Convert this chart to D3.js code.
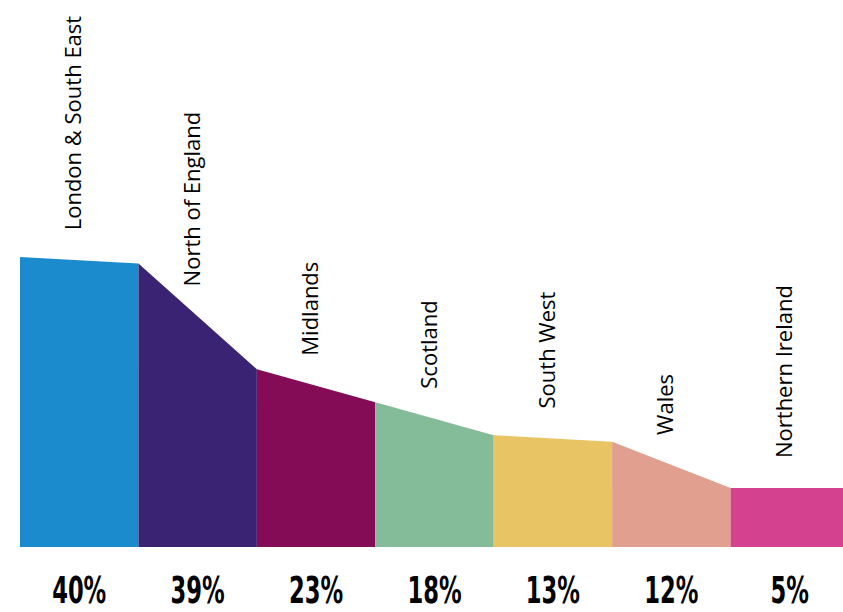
<!DOCTYPE html>
<html>
<head>
<meta charset="utf-8">
<script src="https://cdn.jsdelivr.net/npm/d3@7"></script>
<style>
  html, body { margin: 0; padding: 0; background: #fff; }
  svg { display: block; }
</style>
</head>
<body>
<svg id="chart" width="843" height="612"></svg>
<script>
// Regions, their shares (%) and fill colours
const regions = ["London & South East", "North of England", "Midlands", "Scotland", "South West", "Wales", "Northern Ireland"];
const shares = [40, 39, 23, 18, 13, 12, 5];
const shareLabels = ["40%", "39%", "23%", "18%", "13%", "12%", "5%"];
const colors = ["#1c8bcd", "#3a2373", "#840b55", "#84bb98", "#e9c464", "#e09f8f", "#d3418f"];

const left = 20, right = 849;      // last band runs off the right edge
const bandBottom = 547;            // bottom of the coloured bands
const zeroY = 521, topY = 257;     // where 0% and 40% sit

const svg = d3.select("#chart");

const x = d3.scaleLinear().domain([0, regions.length]).range([left, right]);
const y = d3.scaleLinear().domain([0, 40]).range([zeroY, topY]);

// each band slopes from its own share to the next region's share
const segs = regions.map((r, i) => {
  const v0 = shares[i];
  const v1 = i + 1 < shares.length ? shares[i + 1] : shares[i];
  return { name: r, i, v0, v1, label: shareLabels[i], color: colors[i] };
});

const area = d3.area()
  .x(d => x(d.t))
  .y0(bandBottom)
  .y1(d => y(d.v));

svg.append("g").selectAll("path")
  .data(segs)
  .join("path")
  .attr("d", d => area([{ t: d.i, v: d.v0 }, { t: d.i + 1, v: d.v1 }]))
  .attr("fill", d => d.color);

// rotated region names above each band
svg.append("g").selectAll("text")
  .data(segs)
  .join("text")
  .attr("transform", d => {
    const cx = x(d.i + 0.5) + 2;
    const cy = y((d.v0 + d.v1) / 2) - 30;
    return `translate(${cx},${cy}) rotate(-90)`;
  })
  .attr("text-anchor", "start")
  .attr("font-family", "'Open Sans', sans-serif")
  .attr("font-size", 22)
  .attr("fill", "#000")
  .text(d => d.name);

// share figures along the bottom, in a tall condensed face
svg.append("g").selectAll("text")
  .data(segs)
  .join("text")
  .attr("transform", d => `translate(${x(d.i + 0.5)},603) scale(0.68,1)`)
  .attr("text-anchor", "middle")
  .attr("font-family", "'DejaVu Sans Condensed', 'DejaVu Sans', sans-serif")
  .attr("font-weight", "bold")
  .attr("font-size", 37)
  .attr("fill", "#000")
  .text(d => d.label);
</script>
</body>
</html>
